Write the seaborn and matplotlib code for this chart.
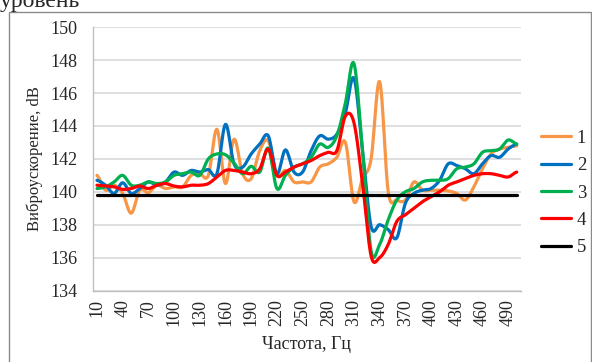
import numpy as np
import pandas as pd
import matplotlib
matplotlib.use("Agg")
import matplotlib.pyplot as plt
from matplotlib.lines import Line2D
from matplotlib.patches import Rectangle
import seaborn as sns

# ---- data -------------------------------------------------------------
freq = list(range(10, 501, 10))
series_names = ["1", "2", "3", "4", "5"]
colors = ["#F79646", "#0070C0", "#00B050", "#FF0000", "#000000"]

s1 = [141.0, 140.1, 140.4, 139.9, 138.7, 140.1, 139.95, 140.4, 140.2, 140.3,
      140.3, 141.0, 141.1, 141.0, 143.8, 140.5, 143.2, 141.1, 140.8, 142.5,
      143.1, 141.0, 141.3, 140.6, 140.6, 140.6, 141.5, 141.7, 142.1, 143.0,
      139.4, 140.8, 142.0, 146.7, 140.0, 139.5, 139.5, 140.6, 140.1, 140.1,
      140.1, 140.05, 139.9, 139.5, 140.3, 141.4, 142.3, 142.6, 142.7, 142.8]
s2 = [140.7, 140.4, 139.9, 140.55, 139.9, 140.2, 140.6, 140.4, 140.6, 141.2,
      141.0, 141.3, 141.2, 141.35, 141.1, 144.1, 141.7, 141.5, 142.3, 142.9,
      143.4, 141.1, 142.55, 141.2, 141.2, 142.5, 143.4, 143.2, 143.5, 144.8,
      146.9, 142.5, 137.9, 138.0, 137.7, 137.2, 139.3, 139.9, 140.1, 140.2,
      140.7, 141.7, 141.6, 141.4, 141.1, 141.7, 142.2, 142.1, 142.6, 142.9]
s3 = [140.2, 140.3, 140.6, 141.0, 140.4, 140.4, 140.6, 140.5, 140.6, 141.0,
      141.1, 141.2, 141.0, 142.0, 142.3, 142.25, 141.75, 141.1, 141.55, 141.2,
      142.65, 140.2, 141.0, 141.5, 141.7, 142.1, 142.9, 142.7, 143.4, 145.4,
      147.8, 142.5, 136.4, 136.8, 138.3, 139.5, 140.0, 140.2, 140.6, 140.7,
      140.7, 140.8, 141.4, 141.5, 141.7, 142.4, 142.5, 142.6, 143.15, 142.9]
s4 = [140.4, 140.35, 140.3, 140.15, 140.2, 140.35, 140.2, 140.4, 140.5, 140.35,
      140.3, 140.4, 140.4, 140.5, 140.9, 141.3, 141.3, 141.2, 141.1, 141.4,
      142.6, 141.0, 141.2, 141.5, 141.7, 141.9, 142.2, 142.4, 142.5, 144.6,
      144.2, 140.5, 136.1, 136.0, 136.8, 138.2, 138.6, 139.0, 139.4, 139.7,
      140.0, 140.4, 140.6, 140.8, 141.0, 141.1, 141.1, 141.0, 140.9, 141.2]
s5 = [139.8] * 50

y_ticks = [134, 136, 138, 140, 142, 144, 146, 148, 150]
x_label_every = 3

# ---- smoothing (display only, like a spreadsheet "smoothed line") -----
def smooth(y, n=12):
    y = np.asarray(y, float)
    p = np.concatenate([[y[0]], y, [y[-1]]])
    xs, ys = [], []
    for i in range(len(y) - 1):
        p0, p1, p2, p3 = p[i], p[i + 1], p[i + 2], p[i + 3]
        t = np.linspace(0, 1, n, endpoint=False)
        v = 0.5 * ((2 * p1) + (-p0 + p2) * t +
                   (2 * p0 - 5 * p1 + 4 * p2 - p3) * t ** 2 +
                   (-p0 + 3 * p1 - 3 * p2 + p3) * t ** 3)
        xs.append(i + t)
        ys.append(v)
    xs.append([len(y) - 1])
    ys.append([y[-1]])
    return np.concatenate(xs), np.concatenate(ys)

frames = []
for name, vals in zip(series_names, [s1, s2, s3, s4, s5]):
    xx, yy = smooth(vals)
    frames.append(pd.DataFrame({"x": xx, "y": yy, "series": name}))
df = pd.concat(frames, ignore_index=True)

# ---- figure ------------------------------------------------------------
sns.set_style("white")
plt.rcParams["font.family"] = ["Liberation Serif", "DejaVu Serif"]

fig = plt.figure(figsize=(5.92, 3.62), dpi=100)
ax = fig.add_axes([92.7 / 592, 1 - 290.5 / 362, (521 - 92.7) / 592, (290.5 - 27.3) / 362])

sns.lineplot(data=df, x="x", y="y", hue="series", hue_order=series_names,
             palette=colors, sort=False, estimator=None, linewidth=2.3,
             legend=False, ax=ax)

ax.set_xlim(-0.5, len(freq) - 0.5)
ax.set_ylim(y_ticks[0], y_ticks[-1])
ax.set_yticks(y_ticks)
ax.set_yticklabels([str(v) for v in y_ticks], fontsize=13)
ax.yaxis.grid(True, color="#d9d9d9", linewidth=1.2)
ax.xaxis.grid(False)

major = list(range(0, len(freq), x_label_every))
ax.set_xticks(major)
ax.set_xticklabels([str(freq[i]) for i in major], rotation=90, fontsize=13)
ax.set_xticks(np.arange(-0.5, len(freq), 1.0), minor=True)
ax.tick_params(axis="x", which="major", length=0, pad=6)
ax.tick_params(axis="x", which="minor", length=4, width=1, color="#bfbfbf")
ax.tick_params(axis="y", length=7, width=1, color="#bfbfbf", pad=4)

for s in ["top", "right"]:
    ax.spines[s].set_visible(False)
for s in ["left", "bottom"]:
    ax.spines[s].set_color("#bfbfbf")
    ax.spines[s].set_linewidth(1)

ax.set_xlabel("Частота, Гц", fontsize=13, labelpad=7)
ax.set_ylabel("Виброускорение, dB", fontsize=12, labelpad=5)

handles = [Line2D([0], [0], color=c, linewidth=2.3) for c in colors]
fig.legend(handles, series_names, loc="center left",
           bbox_to_anchor=(541 / 592, 1 - 193 / 362), frameon=False,
           fontsize=13.5, handlelength=1.6, handletextpad=0.3,
           labelspacing=0.55, borderpad=0, borderaxespad=0)

fig.add_artist(Rectangle((9 / 592, -0.01), 581.5 / 592, 1 - 12 / 362 + 0.01,
                         transform=fig.transFigure, fill=False,
                         edgecolor="#8a8a8a", linewidth=1))
fig.text(0.0, 1 - 7.5 / 362, "уровень", fontsize=17, va="baseline", ha="left")

fig.savefig("out.png", dpi=100)
